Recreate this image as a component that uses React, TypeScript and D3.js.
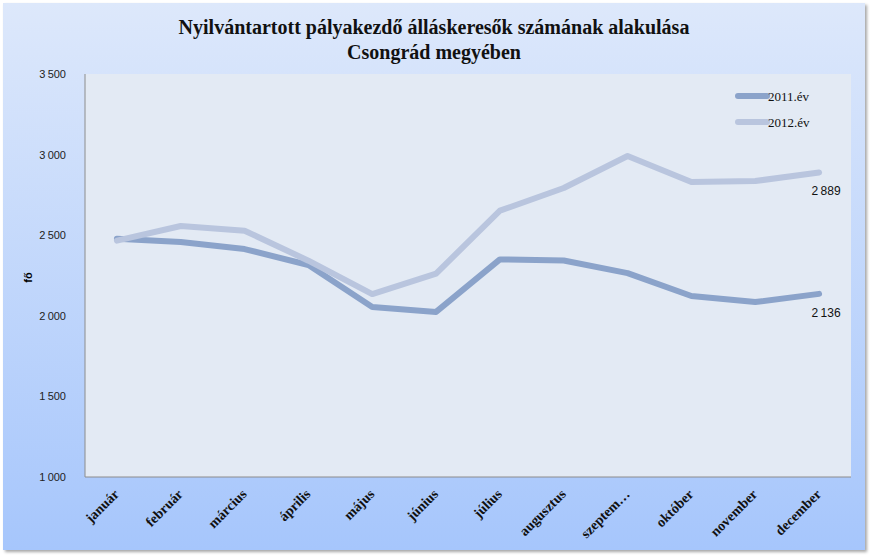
import { useEffect, useRef } from 'react';
import * as d3 from 'd3';

const months = ['január', 'február', 'március', 'április', 'május', 'június', 'július', 'augusztus', 'szeptem…', 'október', 'november', 'december'];
const values2011 = [2478, 2458, 2414, 2315, 2055, 2024, 2350, 2343, 2265, 2123, 2085, 2136];
const values2012 = [2466, 2557, 2528, 2342, 2135, 2262, 2652, 2793, 2991, 2830, 2836, 2889];
const yTicks = [1000, 1500, 2000, 2500, 3000, 3500];

const series = [
    { name: '2011.év', values: values2011, color: '#8ba3ca' },
    { name: '2012.év', values: values2012, color: '#b9c5de' },
];

const fmt = (v: number) => d3.format(',')(v).replace(',', '\u2009');

export default function App() {
    const svgRef = useRef<SVGSVGElement>(null);
    const width = 871;
    const height = 558;

    useEffect(() => {
        if (!svgRef.current) return;
        const svg = d3.select(svgRef.current);
        svg.selectAll('*').remove();

        const margin = { top: 74, right: 20, bottom: 81, left: 85 };
        const innerWidth = 851 - margin.left;
        const innerHeight = 477 - margin.top;

        // background gradient
        const defs = svg.append('defs');
        const grad = defs.append('linearGradient')
            .attr('id', 'bg').attr('x1', 0).attr('y1', 0).attr('x2', 0).attr('y2', 1);
        grad.append('stop').attr('offset', '0%').attr('stop-color', '#dde8fb');
        grad.append('stop').attr('offset', '100%').attr('stop-color', '#a6c6fc');
        const shadow = defs.append('filter').attr('id', 'sh')
            .attr('x', '-2%').attr('y', '-2%').attr('width', '104%').attr('height', '104%');
        shadow.append('feDropShadow').attr('dx', 2).attr('dy', 2).attr('stdDeviation', 1.5)
            .attr('flood-color', '#000').attr('flood-opacity', 0.35);

        svg.append('rect').attr('width', width).attr('height', height).attr('fill', '#ffffff');
        svg.append('rect')
            .attr('x', 3).attr('y', 3).attr('width', 862).attr('height', 547)
            .attr('fill', 'url(#bg)').attr('filter', 'url(#sh)');

        const g = svg.append('g').attr('transform', `translate(${margin.left},${margin.top})`);

        g.append('rect').attr('width', innerWidth).attr('height', innerHeight).attr('fill', '#e3eaf4');

        const x = d3.scaleBand().domain(months).range([0, innerWidth]);
        const y = d3.scaleLinear().domain([1000, 3500]).range([innerHeight, 0]);
        const cx = (m: string) => (x(m) ?? 0) + x.bandwidth() / 2;

        // axes
        g.append('line').attr('x1', 0).attr('x2', 0).attr('y1', 0).attr('y2', innerHeight)
            .attr('stroke', '#8c8c8c');
        g.append('line').attr('x1', 0).attr('x2', innerWidth).attr('y1', innerHeight).attr('y2', innerHeight)
            .attr('stroke', '#8c8c8c');

        g.selectAll('.ytick')
            .data(yTicks)
            .join('text')
            .attr('class', 'ytick')
            .attr('x', -19)
            .attr('y', d => y(d) + 4)
            .attr('text-anchor', 'end')
            .attr('font-family', 'Liberation Sans, Arial, sans-serif')
            .attr('font-size', 11)
            .attr('fill', '#222')
            .text(d => fmt(d));

        g.selectAll('.xtick')
            .data(months)
            .join('text')
            .attr('class', 'xtick')
            .attr('transform', d => `translate(${cx(d) + 3},${innerHeight + 18}) rotate(-45)`)
            .attr('text-anchor', 'end')
            .attr('font-family', 'Liberation Serif, Times New Roman, serif')
            .attr('font-weight', 'bold')
            .attr('font-size', 14)
            .attr('fill', '#111')
            .text(d => d);

        svg.append('text')
            .attr('transform', `translate(32,${margin.top + innerHeight / 2 + 2}) rotate(-90)`)
            .attr('text-anchor', 'middle')
            .attr('font-family', 'Liberation Sans, Arial, sans-serif')
            .attr('font-weight', 'bold')
            .attr('font-size', 11)
            .text('fő');

        // title
        const title = svg.append('text')
            .attr('text-anchor', 'middle')
            .attr('font-family', 'Liberation Serif, Times New Roman, serif')
            .attr('font-weight', 'bold')
            .attr('font-size', 20)
            .attr('fill', '#111');
        title.append('tspan').attr('x', 434).attr('y', 34).text('Nyilvántartott pályakezdő álláskeresők számának alakulása');
        title.append('tspan').attr('x', 434).attr('y', 59).text('Csongrád megyében');

        // lines
        const line = d3.line<number>()
            .x((_, i) => cx(months[i]))
            .y(d => y(d));

        series.forEach(s => {
            g.append('path')
                .attr('d', line(s.values))
                .attr('fill', 'none')
                .attr('stroke', s.color)
                .attr('stroke-width', 6)
                .attr('stroke-linecap', 'round')
                .attr('stroke-linejoin', 'round');
            const last = s.values[s.values.length - 1];
            g.append('text')
                .attr('x', cx(months[months.length - 1]) + 7)
                .attr('y', y(last) + 23)
                .attr('text-anchor', 'middle')
                .attr('font-family', 'Liberation Sans, Arial, sans-serif')
                .attr('font-size', 12)
                .attr('fill', '#111')
                .text(fmt(last));
        });

        // legend
        const legend = svg.append('g').attr('transform', 'translate(738,96)');
        series.forEach((s, i) => {
            const row = legend.append('g').attr('transform', `translate(0,${i * 26})`);
            row.append('line').attr('x1', 0).attr('x2', 29).attr('y1', 0).attr('y2', 0)
                .attr('stroke', s.color).attr('stroke-width', 6).attr('stroke-linecap', 'round');
            row.append('text').attr('x', 30).attr('y', 5)
                .attr('font-family', 'Liberation Serif, Times New Roman, serif')
                .attr('font-size', 13)
                .attr('fill', '#111')
                .text(s.name);
        });
    }, []);

    return <svg ref={svgRef} width={width} height={height} style={{ display: 'block', position: 'absolute', left: 0, top: 0 }} />;
}
